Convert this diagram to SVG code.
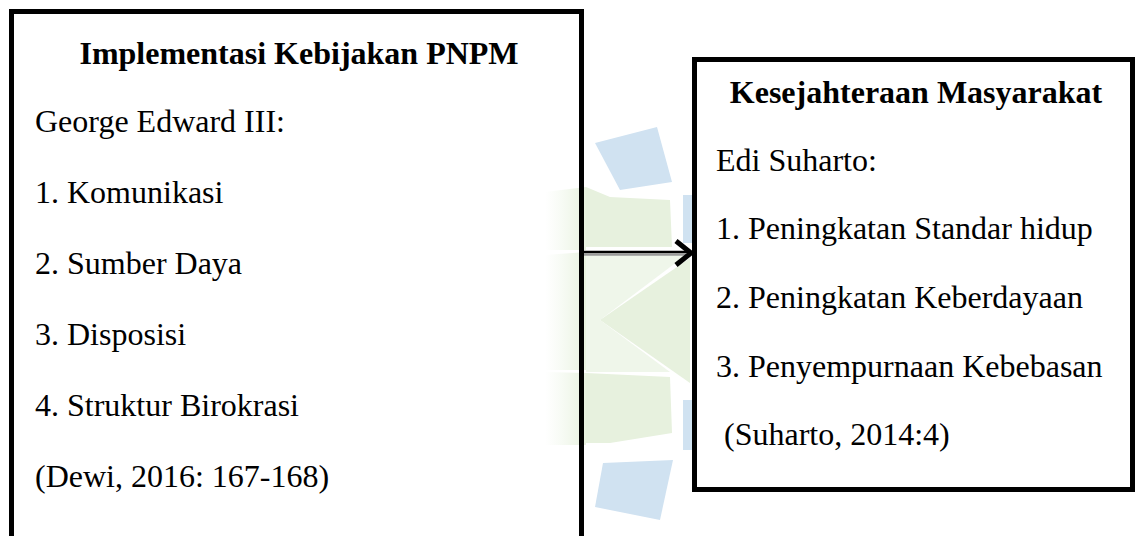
<svg xmlns="http://www.w3.org/2000/svg" width="1136" height="536" viewBox="0 0 1136 536">
<defs>
<linearGradient id="fadeL" x1="0" y1="0" x2="1" y2="0">
<stop offset="0" stop-color="#eef6e8" stop-opacity="0"/>
<stop offset="1" stop-color="#e8f2df"/>
</linearGradient>
</defs>
<style>
.box{stroke:#000;stroke-width:5}
.t{font-family:"Liberation Serif","Times New Roman",serif;font-size:32px;fill:#000}
.b{font-weight:bold}
.wb{fill:#d0e2f1}
.wg{fill:#e7f1de}
.wp{fill:#eff6ea}
.wf{fill:url(#fadeL)}
</style>
<rect width="1136" height="536" fill="#fff"/>
<g id="watermark">
<polygon class="wf" points="545,192 586,187 586,250 545,250"/>
<polygon class="wf" points="545,372 586,373 586,445 545,445"/>
<polygon class="wf" points="545,255 586,252 586,370 545,370"/>
<polygon class="wb" points="595,143 657,127 672,182 620,190"/>
<polygon class="wg" points="586,187 610,197 670,200 672,247 586,247"/>
<polygon class="wb" points="683,195 693,195 693,243 683,243"/>
<polygon class="wp" points="586,252 690,252 600,320 586,320"/>
<polygon class="wg" points="600,320 690,258 690,320"/>
<polygon class="wg" points="600,320 690,320 690,383"/>
<polygon class="wp" points="586,320 600,320 670,372 586,372"/>
<polygon class="wg" points="586,373 670,377 672,433 610,443 586,443"/>
<polygon class="wb" points="683,400 693,400 693,450 683,450"/>
<polygon class="wb" points="603,463 673,460 660,520 595,507"/>
</g>
<g id="n1">
<rect class="box" x="11.5" y="11.5" width="570" height="540" fill="none"/>
<text class="t b" x="299" y="64" text-anchor="middle">Implementasi Kebijakan PNPM</text>
<text class="t" x="35" y="132">George Edward III:</text>
<text class="t" x="35" y="203">1. Komunikasi</text>
<text class="t" x="35" y="274">2. Sumber Daya</text>
<text class="t" x="35" y="345">3. Disposisi</text>
<text class="t" x="35" y="416">4. Struktur Birokrasi</text>
<text class="t" x="35" y="487">(Dewi, 2016: 167-168)</text>
</g>
<g id="n2">
<rect class="box" x="694.5" y="59.5" width="438" height="430" fill="#fff"/>
<text class="t b" x="916" y="103" text-anchor="middle">Kesejahteraan Masyarakat</text>
<text class="t" x="716" y="171">Edi Suharto:</text>
<text class="t" x="716" y="239">1. Peningkatan Standar hidup</text>
<text class="t" x="716" y="308">2. Peningkatan Keberdayaan</text>
<text class="t" x="716" y="377">3. Penyempurnaan Kebebasan</text>
<text class="t" x="724" y="445">(Suharto, 2014:4)</text>
</g>
<g id="connectors">
<line x1="584" y1="252" x2="690" y2="252" stroke="#000" stroke-width="2.5"/>
<line x1="584" y1="254.5" x2="688" y2="254.5" stroke="#9a9a9a" stroke-width="2.5"/>
<polyline points="676,241 691,253 676,265" fill="none" stroke="#000" stroke-width="5"/>
</g>
</svg>
